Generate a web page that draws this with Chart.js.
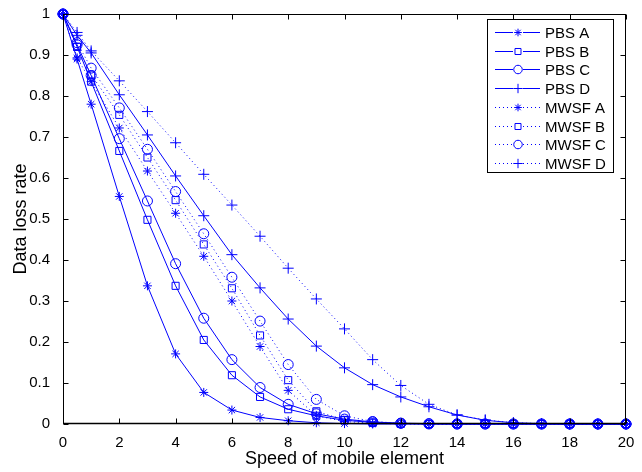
<!DOCTYPE html>
<html>
<head>
<meta charset="utf-8">
<script src="https://cdn.jsdelivr.net/npm/chart.js@4/dist/chart.umd.min.js"></script>
<style>
  html, body { margin: 0; padding: 0; background: #fff; }
  #wrap { width: 642px; height: 472px; }
</style>
</head>
<body>
<div id="wrap"><canvas id="result" width="642" height="472"></canvas></div>
<script>
const speed = [0, 0.5, 1, 2, 3, 4, 5, 6, 7, 8, 9, 10, 11, 12, 13, 14, 15, 16, 17, 18, 19, 20]

const pbsA = [1, 0.89, 0.78, 0.555, 0.337, 0.171, 0.077, 0.034, 0.016, 0.008, 0.003, 0.001, 0, 0, 0, 0, 0, 0, 0, 0, 0, 0]
const pbsB = [1, 0.92, 0.835, 0.666, 0.498, 0.337, 0.205, 0.119, 0.066, 0.036, 0.02, 0.009, 0.004, 0.001, 0, 0, 0, 0, 0, 0, 0, 0]
const pbsC = [1, 0.925, 0.85, 0.696, 0.544, 0.391, 0.258, 0.157, 0.089, 0.048, 0.025, 0.012, 0.005, 0.002, 0.001, 0, 0, 0, 0, 0, 0, 0]
const pbsD = [1, 0.948, 0.905, 0.803, 0.705, 0.605, 0.508, 0.413, 0.332, 0.256, 0.19, 0.137, 0.096, 0.066, 0.042, 0.022, 0.009, 0.003, 0.001, 0, 0, 0]
const mwsfA = [1, 0.893, 0.835, 0.722, 0.617, 0.514, 0.409, 0.3, 0.189, 0.082, 0.02, 0.006, 0.002, 0, 0, 0, 0, 0, 0, 0, 0, 0]
const mwsfB = [1, 0.92, 0.852, 0.754, 0.65, 0.546, 0.438, 0.331, 0.216, 0.107, 0.031, 0.01, 0.003, 0.001, 0, 0, 0, 0, 0, 0, 0, 0]
const mwsfC = [1, 0.93, 0.868, 0.771, 0.67, 0.567, 0.464, 0.358, 0.251, 0.145, 0.06, 0.02, 0.006, 0.002, 0, 0, 0, 0, 0, 0, 0, 0]
const mwsfD = [1, 0.955, 0.91, 0.837, 0.762, 0.686, 0.609, 0.534, 0.458, 0.38, 0.305, 0.232, 0.157, 0.094, 0.048, 0.022, 0.01, 0.003, 0.001, 0, 0, 0]

const xTicks = [0, 2, 4, 6, 8, 10, 12, 14, 16, 18, 20]
const yTicks = [0, 0.1, 0.2, 0.3, 0.4, 0.5, 0.6, 0.7, 0.8, 0.9, 1]
const yTickLabels = ['0', '0.1', '0.2', '0.3', '0.4', '0.5', '0.6', '0.7', '0.8', '0.9', '1']

const blue = '#0000ff'
const font = '"Liberation Sans", Arial, sans-serif'

function series (label, values, marker, radius, dotted) {
  return {
    label: label,
    data: speed.map((x, i) => ({ x: x, y: values[i] })),
    borderColor: blue,
    backgroundColor: 'rgba(0,0,0,0)',
    borderWidth: 1,
    borderDash: dotted ? [1, 3] : [],
    pointStyle: marker,
    pointRadius: radius,
    pointBorderColor: blue,
    pointBackgroundColor: 'rgba(0,0,0,0)',
    pointBorderWidth: 1,
    tension: 0,
    clip: false
  }
}

const datasets = [
  series('PBS A', pbsA, 'star', 4.5, false),
  series('PBS B', pbsB, 'rect', 5, false),
  series('PBS C', pbsC, 'circle', 5, false),
  series('PBS D', pbsD, 'cross', 5.5, false),
  series('MWSF A', mwsfA, 'star', 4.5, true),
  series('MWSF B', mwsfB, 'rect', 5, true),
  series('MWSF C', mwsfC, 'circle', 5, true),
  series('MWSF D', mwsfD, 'cross', 5.5, true)
]

// box, inward ticks and the matlab-style legend
const frame = {
  id: 'frame',
  afterDatasetsDraw (chart) {
    const ctx = chart.ctx
    const a = chart.chartArea
    const xs = chart.scales.x
    const ys = chart.scales.y
    const l = Math.round(a.left) + 0.5
    const r = Math.round(a.right) - 0.5
    const t = Math.round(a.top) + 0.5
    const b = Math.round(a.bottom) - 0.5
    ctx.save()
    ctx.strokeStyle = '#000'
    ctx.lineWidth = 1
    ctx.beginPath()
    xTicks.forEach(v => {
      const px = Math.round(xs.getPixelForValue(v)) + 0.5
      ctx.moveTo(px, b); ctx.lineTo(px, b - 5)
      ctx.moveTo(px, t); ctx.lineTo(px, t + 5)
    })
    yTicks.forEach(v => {
      const py = Math.round(ys.getPixelForValue(v)) + 0.5
      ctx.moveTo(l, py); ctx.lineTo(l + 5, py)
      ctx.moveTo(r, py); ctx.lineTo(r - 5, py)
    })
    ctx.stroke()
    ctx.strokeRect(l, t, r - l, b - t)
    ctx.beginPath()
    ctx.lineWidth = 1.5
    ctx.moveTo(l, b); ctx.lineTo(r, b)
    ctx.stroke()
    ctx.restore()
  },
  afterDraw (chart) {
    const ctx = chart.ctx
    const bx = 487.5
    const by = 19.5
    const bw = 126
    const bh = 153
    ctx.save()
    ctx.fillStyle = '#fff'
    ctx.fillRect(bx, by, bw, bh)
    ctx.strokeStyle = '#000'
    ctx.lineWidth = 1
    ctx.strokeRect(bx, by, bw, bh)
    ctx.font = '15px ' + font
    ctx.textBaseline = 'middle'
    ctx.textAlign = 'left'
    chart.data.datasets.forEach((ds, i) => {
      const y = Math.round(32 + i * 18.7) + 0.5
      ctx.strokeStyle = ds.borderColor
      ctx.lineWidth = 1
      ctx.setLineDash(ds.borderDash)
      ctx.beginPath()
      ctx.moveTo(495, y)
      ctx.lineTo(540, y)
      ctx.stroke()
      ctx.setLineDash([])
      // clear behind marker
      ctx.fillStyle = '#fff'
      ctx.fillRect(513, y - 4, 10, 8)
      Chart.helpers.drawPoint(ctx, {
        pointStyle: ds.pointStyle,
        radius: ds.pointRadius * 0.85,
        borderWidth: 1,
        rotation: 0
      }, 518, y)
      ctx.fillStyle = '#000'
      ctx.fillText(ds.label, 545, y + 1)
    })
    ctx.restore()
  }
}

Chart.defaults.font.family = font
Chart.defaults.color = '#000'

new Chart(document.getElementById('result').getContext('2d'), {
  type: 'line',
  data: { datasets: datasets },
  options: {
    responsive: false,
    animation: false,
    layout: { padding: { left: 10, top: 11, right: 16, bottom: 0 } },
    plugins: { legend: { display: false }, tooltip: { enabled: false } },
    scales: {
      x: {
        type: 'linear',
        min: 0,
        max: 20,
        grid: { display: false },
        border: { display: false },
        afterBuildTicks: s => { s.ticks = xTicks.map(v => ({ value: v })) },
        afterFit: s => { s.height = 48 },
        ticks: { font: { size: 15 }, padding: 2, maxRotation: 0, autoSkip: false },
        title: { display: true, text: 'Speed of mobile element', font: { size: 18 }, padding: { top: 0, bottom: 2 } }
      },
      y: {
        type: 'linear',
        min: 0,
        max: 1,
        grid: { display: false },
        border: { display: false },
        afterBuildTicks: s => { s.ticks = yTicks.map(v => ({ value: v })) },
        afterFit: s => { s.width = 53 },
        ticks: {
          font: { size: 15 },
          padding: 5,
          autoSkip: false,
          callback: (v) => yTickLabels[yTicks.indexOf(v)]
        },
        title: { display: true, text: 'Data loss rate', font: { size: 18 }, padding: { top: 0, bottom: 0 } }
      }
    }
  },
  plugins: [frame]
})
</script>
</body>
</html>
